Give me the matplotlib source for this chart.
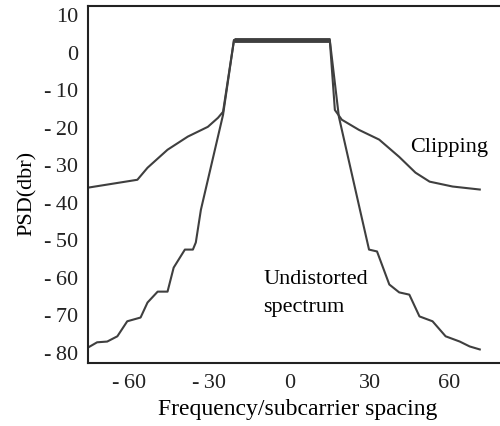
import matplotlib.pyplot as plt

# Undistorted spectrum
und_x = [-75.5, -72.1, -68.3, -64.5, -60.8, -55.8, -53.2, -49.4, -45.7, -43.4,
         -39.2, -36.2, -35.1, -33.2, -24.9, -20.8, 15.1, 18.5, 26.4, 29.8,
         32.8, 37.4, 41.1, 44.9, 48.7, 53.6, 58.5, 63.8, 67.5, 71.3]
und_y = [-78.6, -77.2, -77.0, -75.6, -71.6, -70.6, -66.6, -63.7, -63.7, -57.3,
         -52.5, -52.5, -50.6, -41.9, -16.6, 3.3, 3.3, -17.1, -41.9, -52.5,
         -53.0, -61.8, -63.9, -64.5, -70.3, -71.6, -75.6, -77.0, -78.3, -79.1]

# Clipping curve
clip_x = [-75.5, -57.0, -53.2, -45.7, -38.1, -30.6, -26.8, -24.9, -20.8,
          15.1, 17.0, 19.6, 26.0, 33.6, 41.1, 47.2, 52.5, 61.1, 71.3]
clip_y = [-36.0, -33.9, -30.7, -25.9, -22.4, -19.8, -17.4, -15.8, 3.3,
          3.3, -15.3, -17.9, -20.6, -23.2, -27.8, -32.0, -34.4, -35.7, -36.5]

# passband (thick noisy band)
band_x = [-20.8, 15.1]
band_y = [3.3, 3.3]

xticks = [-60, -30, 0, 30, 60]
yticks = [10, 0, -10, -20, -30, -40, -50, -60, -70, -80]


def lab(v):
    # hyphen plus thin space, like the scanned labels
    return str(v) if v >= 0 else '-\u2009' + str(-v)


plt.rcParams['font.family'] = ['Liberation Serif', 'DejaVu Serif']

fig = plt.figure(figsize=(5, 4.26), dpi=100)
ax = fig.add_axes([0.176, 0.148, 0.83, 0.838])

ax.plot(und_x, und_y, color='#3f3f3f', lw=1.5)
ax.plot(clip_x, clip_y, color='#3f3f3f', lw=1.5)
ax.plot(band_x, band_y, color='#3f3f3f', lw=3.5, solid_capstyle='butt')

ax.set_xlim(-75.5, 80)
ax.set_ylim(-82.7, 12.4)
ax.set_xticks(xticks)
ax.set_xticklabels([lab(v) for v in xticks])
ax.set_yticks(yticks)
ax.set_yticklabels([lab(v) for v in yticks])
ax.tick_params(length=0, labelsize=16, colors='#222222')
ax.tick_params(axis='y', pad=7)
ax.tick_params(axis='x', pad=8)
for s in ['top', 'left', 'bottom']:
    ax.spines[s].set_linewidth(1.5)
    ax.spines[s].set_color('#222222')
ax.spines['right'].set_visible(False)

ax.set_xlabel('Frequency/subcarrier spacing', fontsize=17)
ax.set_ylabel('PSD(dbr)', fontsize=16)
ax.xaxis.set_label_coords(0.505, -0.1)
ax.yaxis.set_label_coords(-0.123, 0.476)

ax.text(60, -25.4, 'Clipping', fontsize=16, ha='center', va='center')
ax.text(-9.8, -60.5, 'Undistorted', fontsize=16, ha='left', va='center')
ax.text(-9.8, -68.0, 'spectrum', fontsize=16, ha='left', va='center')

fig.savefig('out.png', dpi=100)
